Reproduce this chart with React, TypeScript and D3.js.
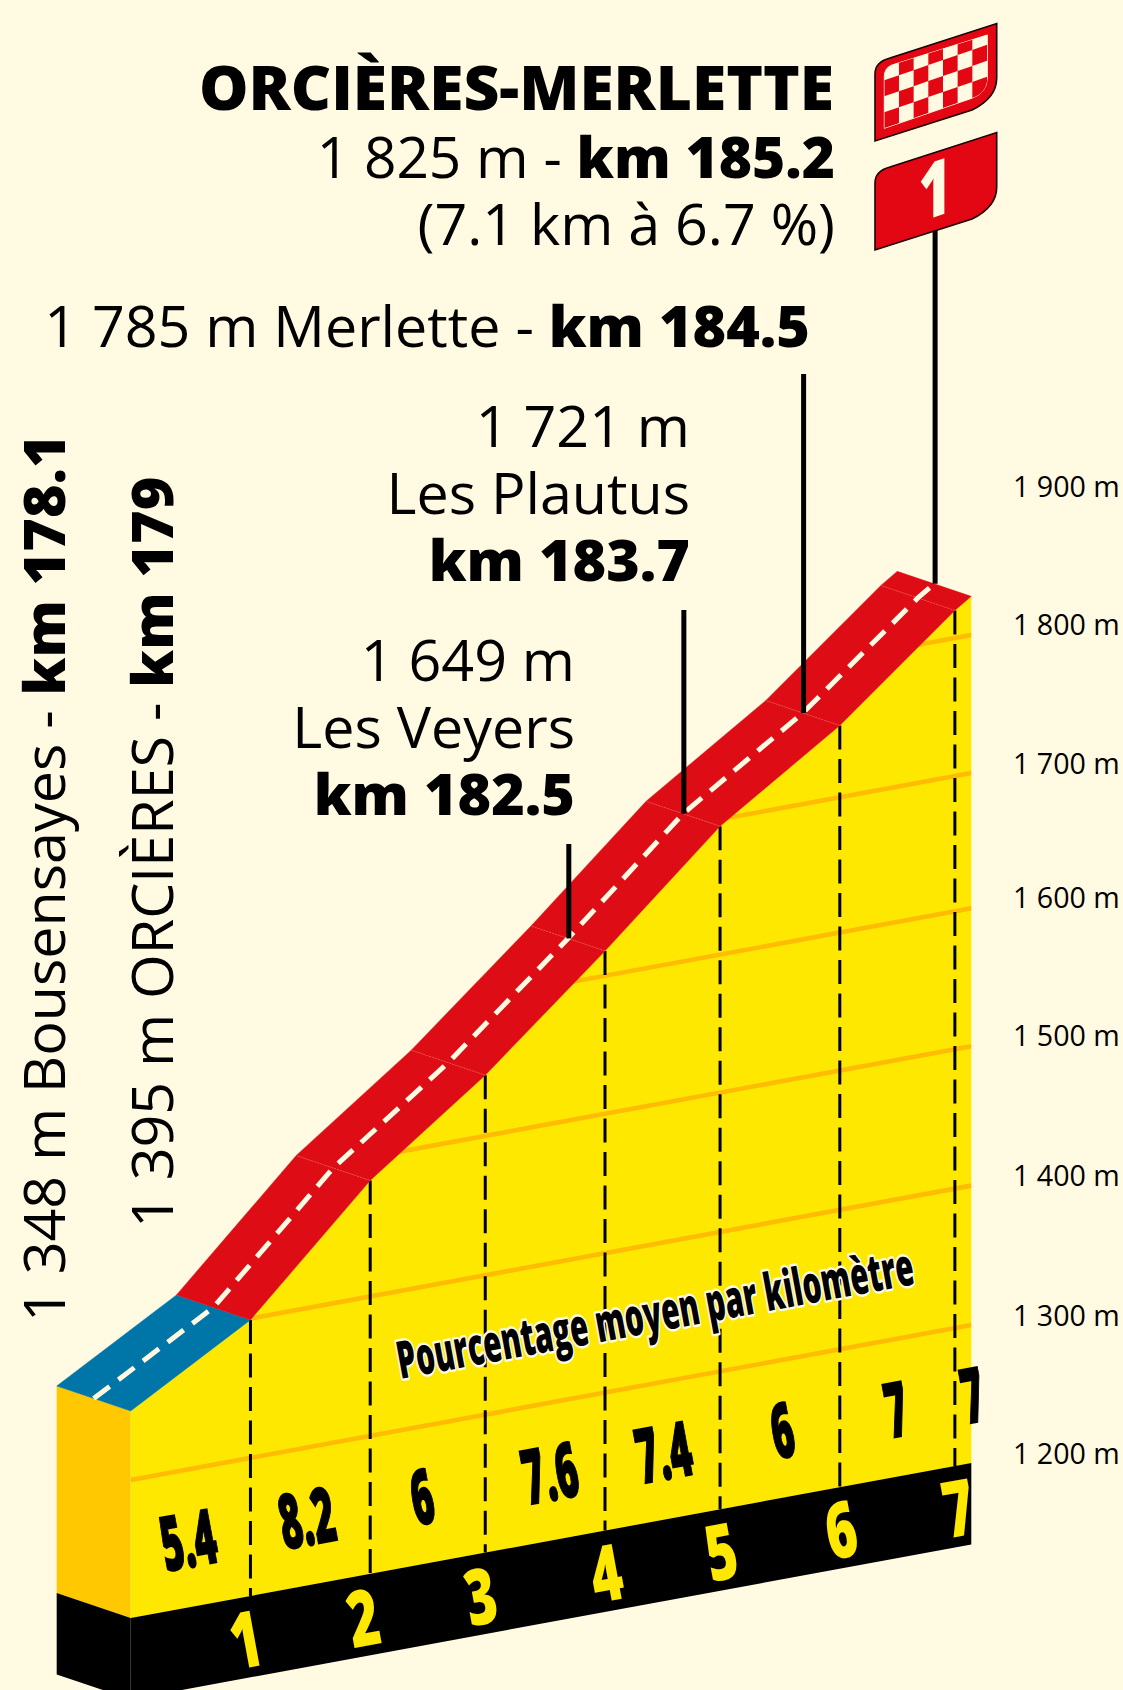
import React from "react";
import * as d3 from "d3";

// ---- data ----
const profileDistances = [0, 1.02, 2.04, 3.02, 4.04, 5.02, 6.04, 7.02, 7.16];
const profileAltitudes = [1350, 1400, 1485, 1546, 1620, 1695, 1752, 1820, 1828];
const segmentColors = ["#0075a8", "#de0d15", "#de0d15", "#de0d15", "#de0d15", "#de0d15", "#de0d15", "#de0d15"];
const kmLabels = ["1", "2", "3", "4", "5", "6", "7"];
const kmLabelDistances = [0.98, 1.98, 2.98, 4.05, 5.03, 6.05, 7.05];
const percentLabels = ["5.4", "8.2", "6", "7.6", "7.4", "6", "7", "7"];
const percentDistances = [0.49, 1.5, 2.48, 3.57, 4.54, 5.55, 6.52, 7.17];
const gridAltitudes = [1300, 1401, 1502, 1602, 1700, 1800];
const tickAltitudes = [1199.5, 1299.5, 1401, 1502, 1602, 1699.5, 1800, 1900];
const tickLabels = ["1 200 m", "1 300 m", "1 400 m", "1 500 m", "1 600 m", "1 700 m", "1 800 m", "1 900 m"];
const poleProfileIndex = [4, 5, 6, 8];

// ---- styles ----
const BG = "#fffae1";
const YELLOW = "#ffe800";
const SIDE = "#ffc800";
const GRID = "#ffbc00";
const FLAG = "#e30613";
const FONT = "'Open Sans', sans-serif";
const BASE_ALT = 1200;
const FLOOR_ALT = 1141;
const TILT = -10.45;

// ---- scales ----
const END = profileDistances[profileDistances.length - 1];
const xScale = d3.scaleLinear().domain([0, END]).range([130.7, 971.3]);
const yScale = d3.scaleLinear().domain([1200, 1300]).range([1463, 1325]);
const skewScale = d3.scaleLinear().domain([0, END]).range([155, 0]);
const project = (d: number, alt: number, depth = 0): [number, number] => [
  xScale(d) - 74 * depth,
  yScale(alt) + skewScale(d) - 25 * depth,
];
const line = d3.line<[number, number]>();
const poly = (pts: [number, number][]) => line(pts) + "Z";

const front = profileDistances.map((d, i) => project(d, profileAltitudes[i], 0));
const yellowPath = poly([...front, project(END, BASE_ALT), project(0, BASE_ALT)]);

const FLAG_SHAPE = "M875,141 L875,74 Q875,62 890,58 L996.7,23.5 L996.7,78 Q996.7,98 972,110 Z";
const CHECK_CLIP = "M884.3,128.3 L884.3,76.7 Q884.3,68 892,65 L987.3,35 L987.3,78 Q987,93 971.7,98.3 Z";

const cols = d3.range(7);
const rows = d3.range(5);

const lineStyle: React.CSSProperties = { fontFamily: FONT, fill: "#000" };

export default function App() {
  return (
    <svg
      width={1123}
      height={1690}
      viewBox="0 0 1123 1690"
      style={{ position: "absolute", left: 0, top: 0, display: "block" }}
    >
      <defs>
        <clipPath id="yellowClip"><path d={yellowPath} /></clipPath>
        <clipPath id="checkClip"><path d={CHECK_CLIP} /></clipPath>
      </defs>
      <rect width={1123} height={1690} fill={BG} />

      {/* side face */}
      <path d={poly([project(0, profileAltitudes[0], 1), project(0, profileAltitudes[0]), project(0, BASE_ALT), project(0, BASE_ALT, 1)])} fill={SIDE} />
      <path d={poly([project(0, BASE_ALT, 1), project(0, BASE_ALT), project(0, FLOOR_ALT), project(0, FLOOR_ALT, 1)])} fill="#000" />

      {/* front face */}
      <path d={yellowPath} fill={YELLOW} />
      <g clipPath="url(#yellowClip)">
        {gridAltitudes.map((a) => (
          <path key={a} d={line([project(0, a), project(END, a)]) as string} stroke={GRID} strokeWidth={4.6} fill="none" />
        ))}
      </g>
      <path d={poly([project(0, BASE_ALT), project(END, BASE_ALT), project(END, FLOOR_ALT), project(0, FLOOR_ALT)])} fill="#000" />
      <path d={line([project(0, BASE_ALT), project(0, FLOOR_ALT)]) as string} stroke="#333" strokeWidth={0.6} />

      {/* km dashes */}
      {profileDistances.slice(1, 8).map((d, i) => (
        <path
          key={d}
          d={line([project(d, profileAltitudes[i + 1]), project(d, BASE_ALT)]) as string}
          stroke="#000"
          strokeWidth={3}
          strokeDasharray="24 9.5"
          fill="none"
        />
      ))}

      {/* road */}
      {segmentColors.map((c, i) => (
        <path
          key={i}
          d={poly([
            project(profileDistances[i], profileAltitudes[i], 0),
            project(profileDistances[i + 1], profileAltitudes[i + 1], 0),
            project(profileDistances[i + 1], profileAltitudes[i + 1], 1),
            project(profileDistances[i], profileAltitudes[i], 1),
          ])}
          fill={c}
          stroke={c}
          strokeWidth={0.4}
        />
      ))}
      {profileDistances.slice(2, 8).map((d, i) => (
        <path
          key={d}
          d={line([project(d, profileAltitudes[i + 2], 0), project(d, profileAltitudes[i + 2], 1)]) as string}
          stroke="#ef6a50"
          strokeWidth={0.6}
          strokeDasharray="2 1"
        />
      ))}
      <path
        d={line(profileDistances.map((d, i) => project(d, profileAltitudes[i], 0.5))) as string}
        fill="none"
        stroke={BG}
        strokeWidth={5}
        strokeDasharray="20 11"
      />

      {/* poles */}
      {poleProfileIndex.map((pi, i) => {
        const [x, y] = project(profileDistances[pi], profileAltitudes[pi], 0.5);
        const top = [844, 610, 374, 225][i];
        return <path key={pi} d={line([[x + 0.8, top], [x + 0.8, y]]) as string} stroke="#000" strokeWidth={5} />;
      })}

      {/* flags */}
      <path d={FLAG_SHAPE} fill={FLAG} stroke="#1a0000" strokeWidth={1.6} />
      <path d={CHECK_CLIP} fill={BG} stroke={BG} strokeWidth={1} />
      <g clipPath="url(#checkClip)">
        {cols.map((c) =>
          rows.map((r) =>
            (c + r) % 2 === 0 ? (
              <path
                key={`${c}-${r}`}
                d={`M${884.3 + c * 14.67},${128.3 - c * 5.07 - r * 16} l14.67,-5.07 l0,-16 l-14.67,5.07 Z`}
                fill={FLAG}
              />
            ) : null
          )
        )}
      </g>
      <path d={FLAG_SHAPE} transform="translate(0,109)" fill={FLAG} stroke="#1a0000" strokeWidth={1.6} />
      <text
        transform="translate(935,217) skewY(-18.5) scale(0.72,1)"
        textAnchor="middle"
        fontFamily={FONT}
        fontWeight={800}
        fontSize={78}
        fill={BG}
      >
        1
      </text>

      {/* titles */}
      <g style={lineStyle} textAnchor="end">
        <text x={834} y={110} fontSize={62.3} fontWeight={800}>ORCIÈRES-MERLETTE</text>
        <text x={835} y={178} fontSize={56.8}>1 825 m - <tspan fontWeight={800}>km 185.2</tspan></text>
        <text x={835} y={245} fontSize={57.4}>(7.1 km à 6.7 %)</text>
        <text x={810} y={347} fontSize={57.4}>1 785 m Merlette - <tspan fontWeight={800}>km 184.5</tspan></text>
        <text x={690} y={447} fontSize={57.4}>1 721 m</text>
        <text x={690} y={514} fontSize={57.4}>Les Plautus</text>
        <text x={690} y={581} fontSize={57.4} fontWeight={800}>km 183.7</text>
        <text x={575} y={681} fontSize={57.4}>1 649 m</text>
        <text x={575} y={748} fontSize={57.4}>Les Veyers</text>
        <text x={575} y={815} fontSize={57.4} fontWeight={800}>km 182.5</text>
      </g>
      <g style={lineStyle}>
        <text transform="translate(65,1322) rotate(-90)" fontSize={57.4}>1 348 m Bousensayes - <tspan fontWeight={800}>km 178.1</tspan></text>
        <text transform="translate(173,1228) rotate(-90)" fontSize={57.4}>1 395 m ORCIÈRES - <tspan fontWeight={800}>km 179</tspan></text>
      </g>

      {/* altitude ticks */}
      {tickAltitudes.map((a, i) => (
        <text key={a} x={1013} y={yScale(a)} fontFamily={FONT} fontSize={28.6} fill="#000">{tickLabels[i]}</text>
      ))}

      {/* percentages */}
      {percentLabels.map((t, i) => {
        const [x, y] = project(percentDistances[i], 1249);
        return (
          <text
            key={i}
            transform={`translate(${x},${y}) rotate(${TILT}) scale(0.5,1)`}
            textAnchor="middle"
            dy="0.36em"
            fontFamily={FONT}
            fontWeight={800}
            fontSize={76}
            fill="#000"
            stroke="#000"
            strokeWidth={1.6}
          >
            {t}
          </text>
        );
      })}

      {/* km numbers */}
      {kmLabels.map((t, i) => {
        const [x, y] = project(kmLabelDistances[i], 1169);
        return (
          <text
            key={t}
            transform={`translate(${x},${y}) rotate(${TILT}) scale(0.68,1)`}
            textAnchor="middle"
            dy="0.36em"
            fontFamily={FONT}
            fontWeight={800}
            fontSize={78}
            fill={YELLOW}
          >
            {t}
          </text>
        );
      })}

      <text
        transform={`translate(655,1313) rotate(${TILT}) scale(0.57,1)`}
        textAnchor="middle"
        dy="0.36em"
        fontFamily={FONT}
        fontWeight={800}
        fontSize={52}
        fill="#000"
        stroke="#fffbe8"
        strokeWidth={5}
        paintOrder="stroke"
        strokeLinejoin="round"
      >
        Pourcentage moyen par kilomètre
      </text>
    </svg>
  );
}
